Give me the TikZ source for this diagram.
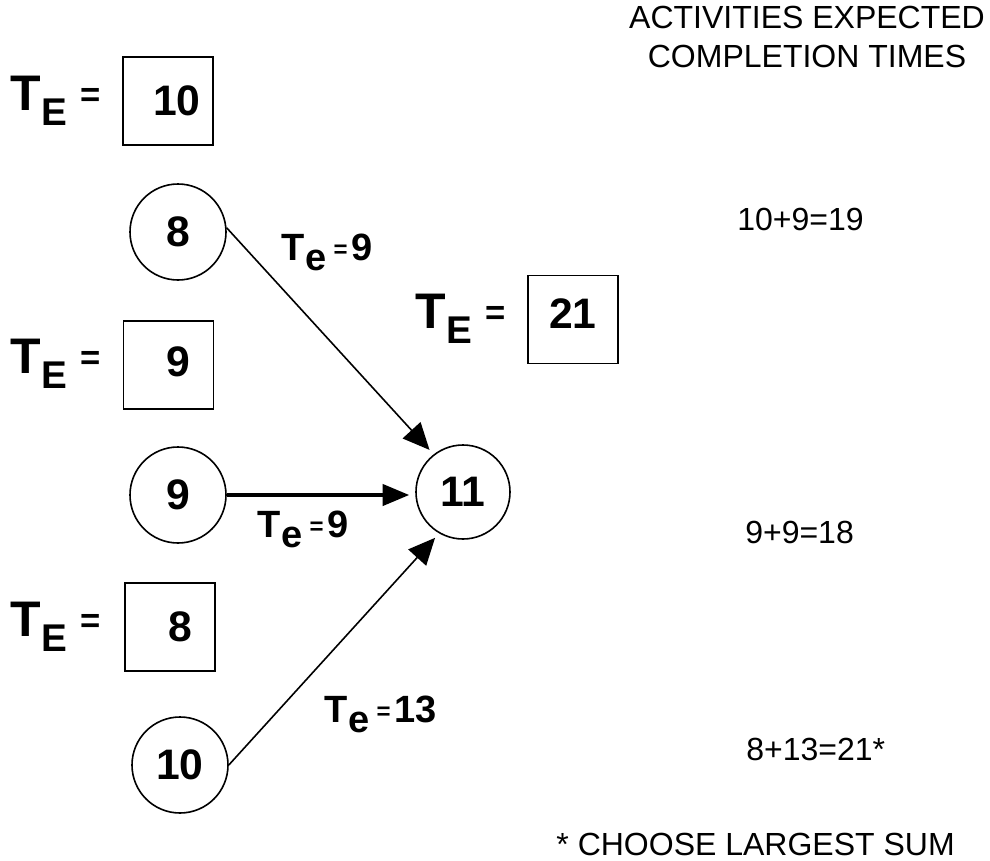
\documentclass[tikz,border=0pt]{standalone}
\usepackage{fontspec}
\setmainfont{Liberation Sans}
\usetikzlibrary{arrows.meta,calc}
\newcommand\fs[1]{\fontsize{#1}{#1}\selectfont}
\newcommand\TElab{T\kern0.3pt\raisebox{-11.25pt}{\fs{29}E}\hspace{10pt}\raisebox{3pt}{\fs{26}=}}
\newcommand\Telab[1]{T\kern0.5pt\raisebox{-7.5pt}{e}\hspace{5.5pt}\raisebox{2pt}{\fs{18}=}\hspace{2.6pt}#1}
\begin{document}
\begin{tikzpicture}[x=0.75pt,y=-0.75pt]
\tikzset{
 circ/.style={circle, draw, line width=1.2pt, minimum size=72pt, inner sep=0pt, font=\bfseries\fs{32}},
 numbox/.style={rectangle, draw, line width=1.2pt, minimum width=67.5pt, minimum height=66pt, inner sep=0pt},
 boxnum/.style={inner sep=0pt, font=\bfseries\fs{32}},
 telabel/.style={anchor=base west, inner sep=0pt, font=\bfseries\fs{37.5}},
 edgelabel/.style={anchor=base west, inner sep=0pt, font=\bfseries\fs{28.5}},
 plaintext/.style={inner sep=0pt, font=\fs{24}},
 thinarrow/.style={line width=1.2pt, -{Triangle[length=20pt,width=18pt]}, shorten >=4.5pt},
 thickarrow/.style={line width=2.6pt, -{Triangle[length=20pt,width=16pt]}, shorten >=4.5pt},
}
\useasboundingbox (0,0) rectangle (990,861);

% boxes with T_E labels
\node[numbox] (b10) at (168,101) {};
\node[boxnum] (n10) at ($(b10.center)+(9,0)$) {10};
\node[telabel] (t10) at (10,110) {\TElab};

\node[numbox] (b9) at (168.5,365) {};
\node[boxnum] (n9) at ($(b9.center)+(10,-3)$) {9};
\node[telabel] (t9) at (10,373) {\TElab};

\node[numbox] (b8) at (170,627) {};
\node[boxnum] (n8) at ($(b8.center)+(10,0)$) {8};
\node[telabel] (t8) at (10,636) {\TElab};

\node[numbox] (b21) at (573,319.5) {};
\node[boxnum] (n21) at ($(b21.center)+(0,-6)$) {21};
\node[telabel] (t21) at (415,328) {\TElab};

% event circles
\node[circ] (c8) at (178,232) {8};
\node[circ] (c9) at (178,495) {9};
\node[circ] (c10) at (180,765) {10};
\node[circ, minimum size=70.5pt] (c11) at (463,492) {11};

% activities
\draw[thinarrow] (c8.5) -- (c11.128);
\draw[thickarrow] (c9.east) -- (c9.east -| c11.west);
\draw[thinarrow] (c10.east) -- (c11.240);

\node[edgelabel] (l1) at (281,260) {\Telab{9}};
\node[edgelabel] (l2) at (257,537) {\Telab{9}};
\node[edgelabel] (l3) at (324,722) {\Telab{13}};

% right column
\node[plaintext, anchor=base] (h1) at (807,28) {ACTIVITIES EXPECTED};
\node[plaintext, anchor=base] (h2) at (807,67) {COMPLETION TIMES};
\node[plaintext, anchor=base west] (s1) at (737,230) {10+9=19};
\node[plaintext, anchor=base west] (s2) at (745,543) {9+9=18};
\node[plaintext, anchor=base west] (s3) at (746,760) {8+13=21*};
\node[plaintext, anchor=base east] (note) at (955,855) {* CHOOSE LARGEST SUM};
\end{tikzpicture}
\end{document}
